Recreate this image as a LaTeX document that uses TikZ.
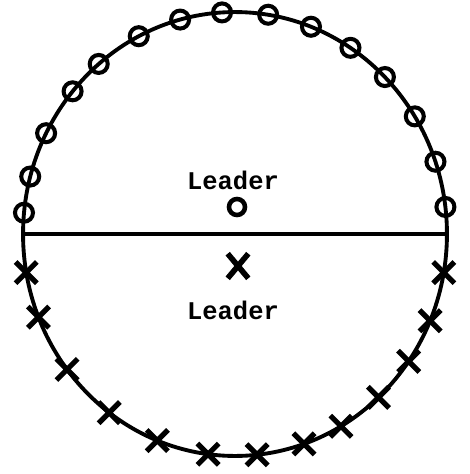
\documentclass[tikz,border=0pt]{standalone}
\usepackage{fontspec}
\setmonofont{Liberation Mono}
\usetikzlibrary{shapes.geometric, shapes.misc, positioning}
\begin{document}
\begin{tikzpicture}[x=0.02cm, y=-0.02cm, node distance=0.15cm]
	% Styles
	\tikzstyle{outline} = [draw, line width=2.2pt]
	\tikzstyle{member} = [draw, circle, line width=2.3pt, minimum size=0.36cm, inner sep=0pt]
	\tikzstyle{follower} = [draw, cross out, line width=3pt, minimum size=0.32cm, inner sep=0pt]
	\tikzstyle{leadertext} = [inner sep=0pt, font=\ttfamily\bfseries\fontsize{14.5}{16}\selectfont]

	\useasboundingbox (0,0) rectangle (470,474);

	% Group
	\node (group) [outline, ellipse, minimum width=8.48cm, minimum height=8.88cm, inner sep=0pt] at (235,234) {};
	\draw [outline] (group.west) -- (group.east);

	% Members on the upper arc
	\foreach \a in {174.5,165,153,140,130,117,105,93.5,81,69,57,45,32,19,7}
		\node [member] at ({235+212*cos(-\a)},{234+222*sin(-\a)}) {};

	% Members on the lower arc
	\foreach \a in {170,158,142.4,126.4,111.5,97.3,84,71,60,47.4,35,23,10}
		\node [follower] at ({235+212*cos(\a)},{234+222*sin(\a)}) {};

	% Leaders
	\node (leadtop) [member, line width=2.6pt, minimum size=0.32cm] at (237,207) {};
	\node (leadtoptext) [leadertext, above=0.14cm of leadtop, xshift=-0.08cm] {Leader};
	\node (leadbot) [follower, line width=3.2pt, minimum width=0.3cm, minimum height=0.38cm] at (238,266) {};
	\node (leadbottext) [leadertext, below=0.45cm of leadbot, xshift=-0.1cm] {Leader};
\end{tikzpicture}
\end{document}
